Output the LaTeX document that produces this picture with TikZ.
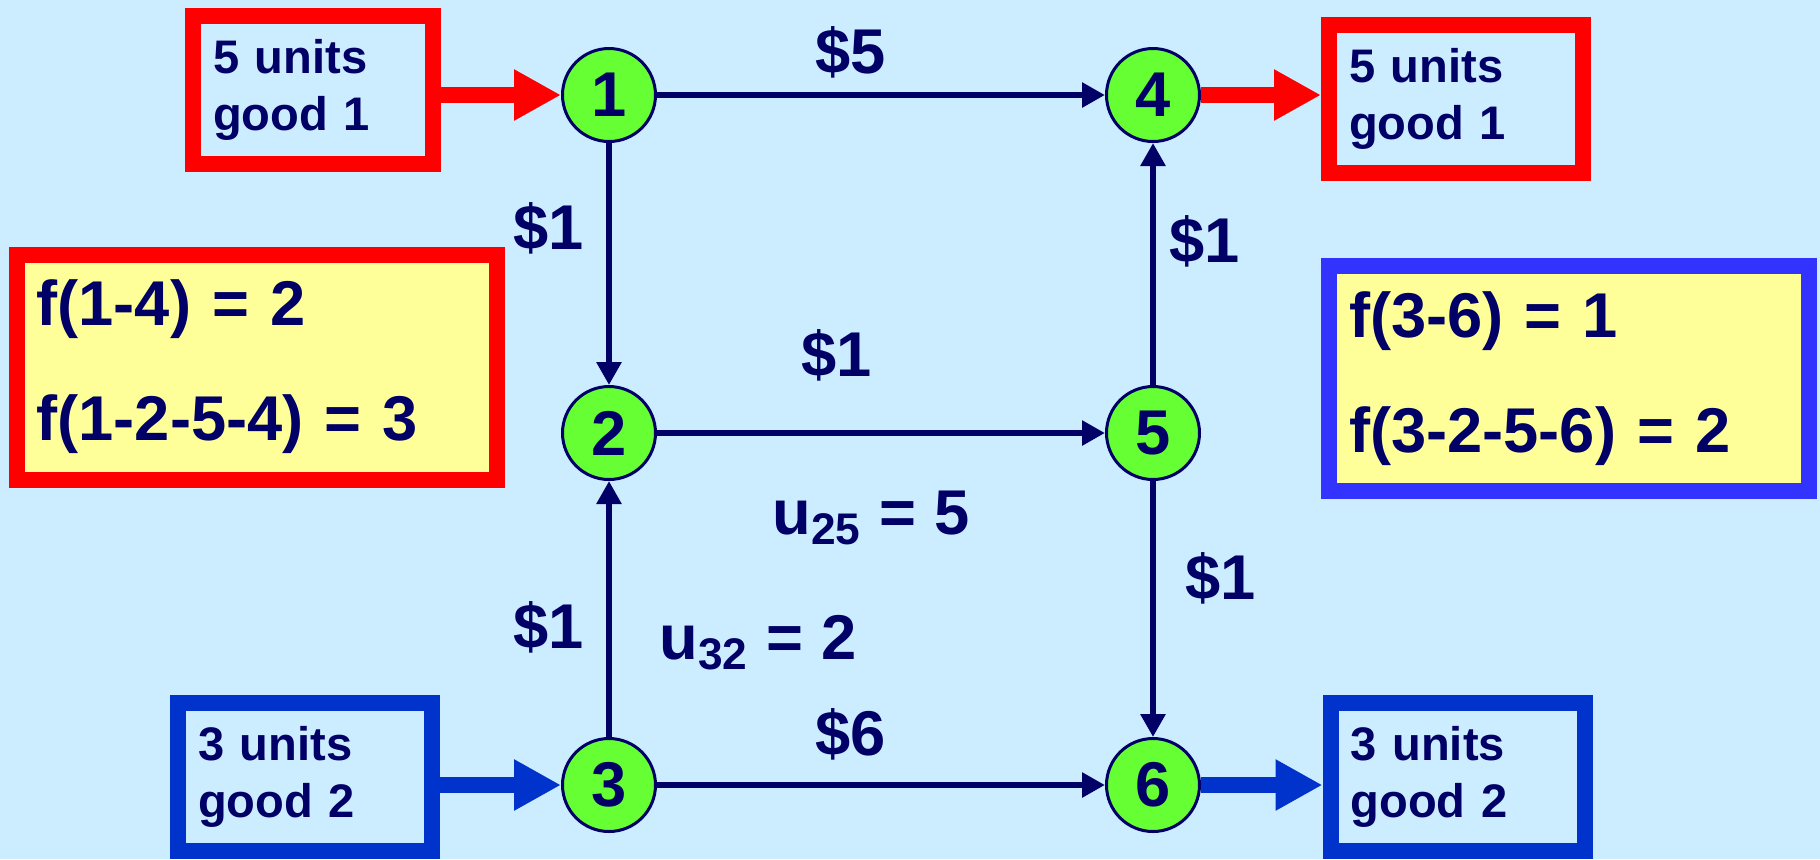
\documentclass[tikz,border=0pt]{standalone}
\usepackage{fontspec}
\setmainfont{Liberation Sans}
\usetikzlibrary{arrows.meta}
\definecolor{BgBlue}{HTML}{CCECFF}
\definecolor{NodeGreen}{HTML}{66FF33}
\definecolor{Navy}{HTML}{000066}
\definecolor{BoxRed}{HTML}{FF0000}
\definecolor{BoxBlue}{HTML}{0033CC}
\definecolor{FlowBlue}{HTML}{3333FF}
\definecolor{NoteYellow}{HTML}{FFFF99}

\begin{document}
\begin{tikzpicture}[
        every node/.style={text=Navy},
        ND/.style={circle, draw=Navy, fill=NodeGreen, line width=0.3mm,
            minimum size=9.3mm, inner sep=0pt,
            font=\fontsize{18}{20}\selectfont\bfseries},
        SB/.style={draw=#1, line width=1.6mm, minimum height=14.8mm,
            inner xsep=2mm, text width=21.4mm, align=left,
            font=\fontsize{13.4}{16.2}\selectfont\bfseries},
        FB/.style={draw=#1, fill=NoteYellow, line width=1.6mm, minimum height=22.5mm,
            inner xsep=2mm, text width=44mm, align=left,
            font=\fontsize{18}{32.7}\selectfont\bfseries},
        lbl/.style={font=\fontsize{18}{20}\selectfont\bfseries},
        arr/.style={-{Triangle[width=2.4mm,length=2.3mm]}, line width=0.6mm, Navy},
        rarr/.style={-{Triangle[width=4.8mm,length=4.7mm]}, line width=1.6mm, BoxRed},
        barr/.style={-{Triangle[width=4.8mm,length=4.7mm]}, line width=1.6mm, BoxBlue},
      ]

      % Background
      \useasboundingbox (0,0) rectangle (18.2,-8.59);
      \fill[BgBlue] (0,0) rectangle (18.2,-8.59);

      % Network nodes
      \node[ND] (n1) at (6.09,-0.95) {1};
      \node[ND] (n4) at (11.53,-0.95) {4};
      \node[ND] (n2) at (6.09,-4.33) {2};
      \node[ND] (n5) at (11.53,-4.33) {5};
      \node[ND] (n3) at (6.09,-7.85) {3};
      \node[ND] (n6) at (11.53,-7.85) {6};

      % Supply and demand boxes
      \node[SB=BoxRed, text width=20mm] (sup1) at (3.13,-0.90) {5 units\\good 1};
      \node[SB=BoxRed]  (dem1) at (14.56,-0.99) {5 units\\good 1};
      \node[SB=BoxBlue] (sup2) at (3.05,-7.77) {3 units\\good 2};
      \node[SB=BoxBlue] (dem2) at (14.575,-7.77) {3 units\\good 2};

      % Path flow boxes
      \node[FB=BoxRed]   (flowA) at (2.565,-3.67) {f(1-4) = 2\\f(1-2-5-4) = 3};
      \node[FB=FlowBlue] (flowB) at (15.69,-3.785) {f(3-6) = 1\\f(3-2-5-6) = 2};

      % Supply / demand arrows
      \draw[rarr] (sup1.east |- n1.west) -- (n1.west);
      \draw[rarr] (n4.east) -- (dem1.west |- n4.east);
      \draw[barr] (sup2.east |- n3.west) -- (n3.west);
      \draw[barr] (n6.east) -- (dem2.west |- n6.east);

      % Arcs
      \draw[arr] (n1) -- (n4);
      \draw[arr] (n1) -- (n2);
      \draw[arr] (n2) -- (n5);
      \draw[arr] (n3) -- (n2);
      \draw[arr] (n5) -- (n4);
      \draw[arr] (n5) -- (n6);
      \draw[arr] (n3) -- (n6);

      % Costs and capacities
      \node[lbl] (c14) at (8.51,-0.52) {\$5};
      \node[lbl] (c12) at (5.49,-2.28) {\$1};
      \node[lbl] (c25) at (8.37,-3.55) {\$1};
      \node[lbl] (c54) at (12.05,-2.41) {\$1};
      \node[lbl] (c56) at (12.21,-5.78) {\$1};
      \node[lbl] (c32) at (5.49,-6.27) {\$1};
      \node[lbl] (c36) at (8.51,-7.34) {\$6};
      \node[lbl] (u25) at (8.71,-5.18) {u\textsubscript{25} = 5};
      \node[lbl] (u32) at (7.58,-6.43) {u\textsubscript{32} = 2};

    \end{tikzpicture}
\end{document}
